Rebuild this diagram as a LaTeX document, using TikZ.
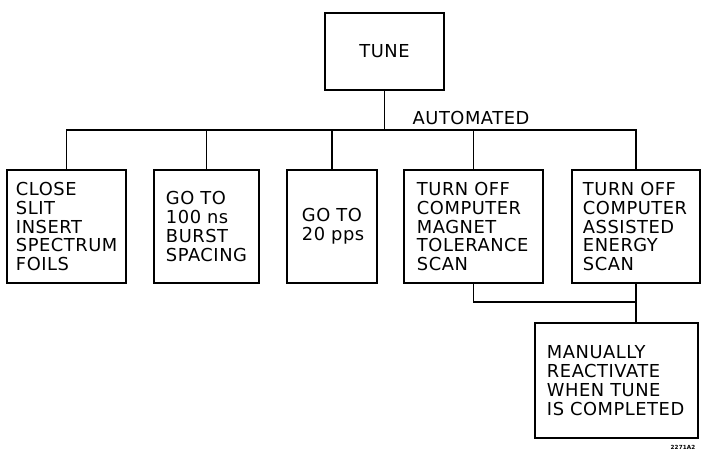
\documentclass[tikz,border=0pt]{standalone}
\usepackage{fontspec}
\setmainfont{DejaVu Sans}[LetterSpace=3.0]
\usepackage{tikz}

\begin{document}
\begin{tikzpicture}[x=0.025cm, y=-0.025cm, line width=1.2pt,
	every node/.style={font=\fontsize{12.7}{13.5}\selectfont},
	box/.style={draw, line width=1.4pt, align=left, minimum height=2.825cm}]
	\useasboundingbox (0,0) rectangle (703,455);
	\node[draw, line width=1.4pt, minimum width=2.975cm, minimum height=1.925cm] (tune) at (384.5,51.5) {TUNE};
	\node (auto) at (471,118) {AUTOMATED};
	\node[box, text width=2.525cm, inner xsep=0.225cm] (close) at (66.5,226.5) {CLOSE\\SLIT\\INSERT\\SPECTRUM\\FOILS};
	\node[box, text width=2.025cm, inner xsep=0.3cm] (burst) at (206.5,226.5) {GO~TO\\100~ns\\BURST\\SPACING};
	\node[box, text width=1.5cm, inner xsep=0.375cm] (rate) at (332,226.5) {GO~TO\\20~pps};
	\node[box, text width=2.825cm, inner xsep=0.325cm] (magnet) at (473.5,226.5) {TURN~OFF\\COMPUTER\\MAGNET\\TOLERANCE\\SCAN};
	\node[box, text width=2.65cm, inner xsep=0.275cm] (energy) at (636,226.5) {TURN~OFF\\COMPUTER\\ASSISTED\\ENERGY\\SCAN};
	\node[box, text width=3.475cm, inner xsep=0.3cm, minimum height=2.875cm] (manual) at (616.5,380.5) {MANUALLY\\REACTIVATE\\WHEN~TUNE\\IS~COMPLETED};
	\node[font=\fontsize{4}{4}\bfseries\selectfont] (fig) at (683,447) {2271A2};
	\coordinate (bus) at (0,130);
	\coordinate (merge) at (0,302);
	\draw (tune) -- (tune |- bus);
	\draw (close.north) -- (close |- bus) -| (energy.north);
	\foreach \n in {burst, rate, magnet} \draw (\n.north) -- (\n |- bus);
	\draw (magnet.south) |- (energy |- merge);
	\draw (energy.south) -- (energy |- manual.north);
\end{tikzpicture}
\end{document}
